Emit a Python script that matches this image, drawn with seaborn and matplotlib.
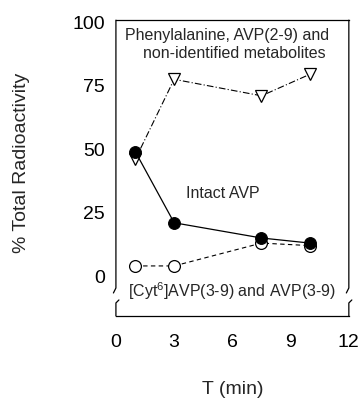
import matplotlib
matplotlib.use("Agg")
import matplotlib.pyplot as plt
import seaborn as sns

sns.set_theme(style="white")
plt.rcParams['font.family'] = ['Liberation Sans', 'DejaVu Sans']

# time points (min)
t = [1, 3, 7.5, 10]
intact_avp = [49, 21, 15, 13]
metabolites = [46, 77.5, 71, 79.5]
cyt_avp39 = [4, 4, 13, 12]

fig = plt.figure(figsize=(3.6, 4.03), dpi=100)
ax = fig.add_axes([0.322, 0.216, 0.647, 0.734])

sns.lineplot(x=t, y=metabolites, ax=ax, color='black', lw=0.8, linestyle=(0, (6, 2, 1, 2)),
             marker='v', markersize=9, markerfacecolor='white', markeredgecolor='black',
             markeredgewidth=0.9, zorder=2)
sns.lineplot(x=t, y=cyt_avp39, ax=ax, color='black', lw=0.8, linestyle=(0, (4, 3)),
             marker='o', markersize=8.5, markerfacecolor='white', markeredgecolor='black',
             markeredgewidth=0.9, zorder=3)
sns.lineplot(x=t, y=intact_avp, ax=ax, color='black', lw=0.9,
             marker='o', markersize=8.5, markerfacecolor='black', markeredgecolor='black',
             zorder=4)

ax.set_xlim(0, 12)
ax.set_ylim(-15.7, 100.8)
ax.set_xticks([0, 3, 6, 9, 12])
ax.set_yticks([0, 25, 50, 75, 100])
ax.tick_params(axis='both', direction='out', length=5, width=0.9, colors='black',
               labelsize=14, pad=3)
ax.tick_params(axis='x', pad=8)
ticks = ax.xaxis.get_major_ticks()
ticks[0].tick1line.set_visible(False)
ticks[-1].tick1line.set_visible(False)

# frame with a break near the bottom of the y axis
for side in ['left', 'right']:
    ax.spines[side].set_visible(False)
for side in ['top', 'bottom']:
    ax.spines[side].set_color('black')
    ax.spines[side].set_linewidth(0.9)
dx, dy = 1 / 233, 1 / 296
top_end, bot_start = 28 * dy, 13 * dy
for xs in [0, 1]:
    ax.plot([xs - 2.5 * dx, xs, xs], [top_end - 5 * dy, top_end, 1],
            transform=ax.transAxes, color='black', lw=0.9, clip_on=False)
    ax.plot([xs + 3 * dx, xs, xs], [bot_start + 3 * dy, bot_start, 0],
            transform=ax.transAxes, color='black', lw=0.9, clip_on=False)

ax.text(5.72, 94.9, "Phenylalanine, AVP(2-9) and", ha='center', va='center', fontsize=11.5)
ax.text(6.08, 87.8, "non-identified metabolites", ha='center', va='center', fontsize=11.5)
ax.text(5.51, 32.7, "Intact AVP", ha='center', va='center', fontsize=11.5)
ax.text(5.97, -5.9, "[Cyt$^{\\mathregular{6}}$]AVP(3-9) and AVP(3-9)",
        ha='center', va='center', fontsize=11.5)

fig.text(22 / 360, 1 - 163 / 403, "% Total Radioactivity", rotation=90, ha='center', va='center', fontsize=14)
fig.text(233 / 360, 1 - 390 / 403, "T (min)", ha='center', va='center', fontsize=14)

fig.savefig("out.png", dpi=100)
